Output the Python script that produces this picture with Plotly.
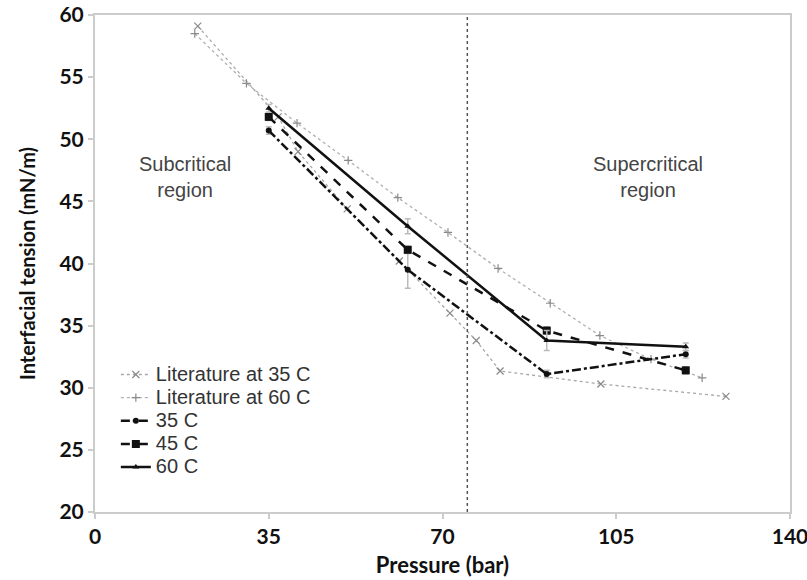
import plotly.graph_objects as go

# Data
lit35_x = [20.7, 36.9, 40.9, 50.8, 61.3, 71.5, 76.8, 81.6, 101.9, 127.1]
lit35_y = [59.1, 51.8, 49.0, 44.4, 40.2, 36.0, 33.8, 31.35, 30.3, 29.3]
lit60_x = [20.1, 30.5, 40.7, 51.0, 61.0, 71.1, 81.2, 91.7, 101.7, 112.0, 122.3]
lit60_y = [58.5, 54.5, 51.3, 48.3, 45.3, 42.5, 39.6, 36.8, 34.2, 32.3, 30.8]
c35_x = [35, 63, 91, 119]
c35_y = [50.7, 39.5, 31.1, 32.7]
c35_err = [0.3, 1.5, 0.3, 0.3]
c45_x = [35, 63, 91, 119]
c45_y = [51.8, 41.1, 34.6, 31.4]
c45_err = [0.3, 0.3, 0.3, 0.3]
c60_x = [35, 63, 91, 119]
c60_y = [52.5, 43.0, 33.8, 33.3]
c60_err = [0.3, 0.6, 0.8, 0.3]
critical_p = 75
x_ticks = [0, 35, 70, 105, 140]
y_ticks = [20, 25, 30, 35, 40, 45, 50, 55, 60]
series_names = ["Literature at 35 C", "Literature at 60 C", "35 C", "45 C", "60 C"]


def lname(s):
    return "<span style='font-size:20px'>" + s + "</span>"


fig = go.Figure()

fig.add_trace(go.Scatter(
    x=lit35_x, y=lit35_y, mode="lines+markers", name=lname(series_names[0]),
    line=dict(color="#a8a8a8", width=1.3, dash="dot"),
    marker=dict(symbol="x-thin", size=7, line=dict(color="#8a8a8a", width=1.2), color="#8a8a8a"),
))
fig.add_trace(go.Scatter(
    x=lit60_x, y=lit60_y, mode="lines+markers", name=lname(series_names[1]),
    line=dict(color="#b0b0b0", width=1.3, dash="dot"),
    marker=dict(symbol="cross-thin", size=6, line=dict(color="#8a8a8a", width=1.2), color="#8a8a8a"),
))
fig.add_trace(go.Scatter(
    x=c35_x, y=c35_y, mode="lines+markers", name=lname(series_names[2]),
    line=dict(color="#111111", width=2.5, dash="dashdot"),
    marker=dict(symbol="circle", size=6, color="#111111"),
    error_y=dict(type="data", array=c35_err, color="#bbbbbb", thickness=1.5, width=3),
))
fig.add_trace(go.Scatter(
    x=c45_x, y=c45_y, mode="lines+markers", name=lname(series_names[3]),
    line=dict(color="#111111", width=2.5, dash="dash"),
    marker=dict(symbol="square", size=8, color="#111111"),
    error_y=dict(type="data", array=c45_err, color="#bbbbbb", thickness=1.5, width=3),
))
fig.add_trace(go.Scatter(
    x=c60_x, y=c60_y, mode="lines+markers", name=lname(series_names[4]),
    line=dict(color="#111111", width=2.5),
    marker=dict(symbol="triangle-up", size=6, color="#111111"),
    error_y=dict(type="data", array=c60_err, color="#bbbbbb", thickness=1.5, width=3),
))

fig.add_shape(type="line", x0=critical_p, x1=critical_p, y0=20, y1=60,
              xref="x", yref="y", line=dict(color="#555555", width=1.5, dash="dot"))

fig.add_annotation(x=18.1, y=47.0, xref="x", yref="y", text="Subcritical<br>region",
                   showarrow=False, font=dict(family="Liberation Sans", size=20, color="#444444"))
fig.add_annotation(x=111.4, y=47.0, xref="x", yref="y", text="Supercritical<br>region",
                   showarrow=False, font=dict(family="Liberation Sans", size=20, color="#444444"))

fig.update_layout(
    width=807, height=580,
    margin=dict(l=95, r=17, t=15, b=68),
    plot_bgcolor="white", paper_bgcolor="white",
    showlegend=True,
    legend=dict(x=0.03, y=0.31, xanchor="left", yanchor="top",
                font=dict(family="Liberation Sans", size=15.5, color="#333333"),
                bgcolor="rgba(0,0,0,0)", tracegroupgap=0, itemwidth=30),
    xaxis=dict(range=[0, 140], tickvals=x_ticks, showgrid=False, zeroline=False,
               showline=True, linecolor="#cccccc", linewidth=2, mirror=True,
               ticks="outside", ticklen=5, tickcolor="#cccccc", tickwidth=1.5,
               automargin=False, ticklabeloverflow="allow",
               tickfont=dict(family="Lato", size=21, color="#111111", weight="bold"),
               title=dict(text="Pressure (bar)", font=dict(family="Lato", size=22, color="#111111", weight="bold"), standoff=10)),
    yaxis=dict(range=[20, 60], tickvals=y_ticks, showgrid=False, zeroline=False,
               showline=True, linecolor="#cccccc", linewidth=2, mirror=True,
               ticks="outside", ticklen=5, tickcolor="#cccccc", tickwidth=1.5,
               automargin=False, ticklabeloverflow="allow",
               tickfont=dict(family="Lato", size=21, color="#111111", weight="bold"),
               title=dict(text="Interfacial tension (mN/m)", font=dict(family="Lato", size=20, color="#111111", weight="bold"), standoff=18)),
)

fig.write_html("out.html")
